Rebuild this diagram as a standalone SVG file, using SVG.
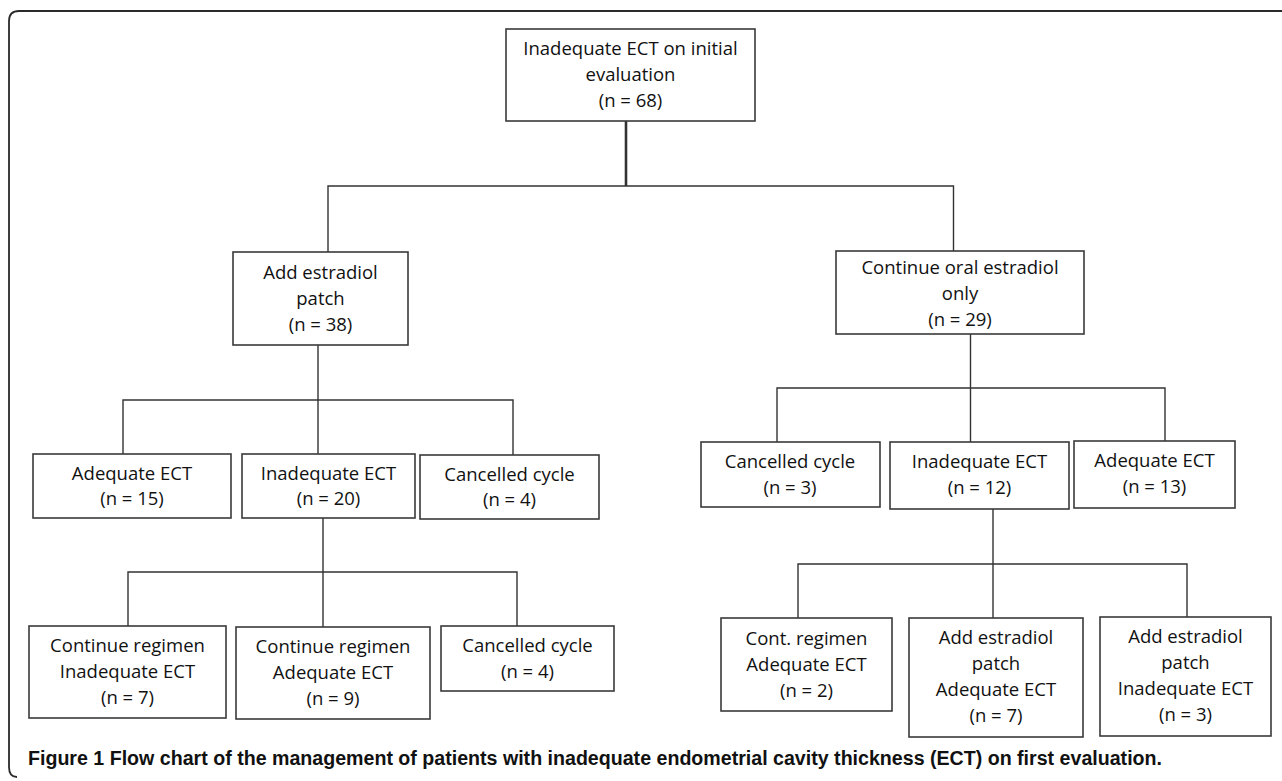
<svg xmlns="http://www.w3.org/2000/svg" width="1282" height="781" viewBox="0 0 1282 781">
<style>
  .box { fill: #ffffff; stroke: #3a3a3a; stroke-width: 1.6; }
  .t { font-family: "Open Sans", "Liberation Sans", sans-serif; font-size: 18.5px; font-weight: 500; fill: #111111; text-anchor: middle; }
  .c { fill: none; stroke: #333333; stroke-width: 1.4; }
  .thick { stroke-width: 2.6; }
  .frame { fill: none; stroke: #2a2a2a; stroke-width: 1.8; }
  .cap { font-family: "Liberation Sans", "Open Sans", sans-serif; font-size: 20px; fill: #111111; }
</style>
<rect width="1282" height="781" fill="#ffffff"/>
<path class="frame" d="M1282 11 H19 Q9 11 9 21 V767 Q9 777 17 777"/>
<g id="connectors">
  <path class="c thick" d="M626 121 V186"/>
  <path class="c" d="M328 252 V186 H953.5 V251"/>
  <path class="c" d="M318 345 V400 M123 454 V400 H513 V455 M318 400 V454"/>
  <path class="c" d="M970.5 334 V388 M777 442 V388 H1165 V441 M970.5 388 V442"/>
  <path class="c" d="M323 518 V572 M128 626 V572 H517 V626 M323 572 V627"/>
  <path class="c" d="M993 509 V564 M798 618 V564 H1187 V617 M993 564 V618"/>
</g>
<g id="n_top">
  <rect class="box" x="506" y="29" width="249" height="92"/>
  <text class="t" x="630.5" y="55">Inadequate ECT on initial</text>
  <text class="t" x="630.5" y="81">evaluation</text>
  <text class="t" x="630.5" y="107">(n = 68)</text>
</g>
<g id="n_patch">
  <rect class="box" x="233" y="252" width="175" height="93"/>
  <text class="t" x="320.5" y="279">Add estradiol</text>
  <text class="t" x="320.5" y="305">patch</text>
  <text class="t" x="320.5" y="331">(n = 38)</text>
</g>
<g id="n_oral">
  <rect class="box" x="836" y="251" width="248" height="83"/>
  <text class="t" x="960" y="274">Continue oral estradiol</text>
  <text class="t" x="960" y="300">only</text>
  <text class="t" x="960" y="326">(n = 29)</text>
</g>
<g id="n_a15">
  <rect class="box" x="33" y="454" width="198" height="64"/>
  <text class="t" x="132" y="480">Adequate ECT</text>
  <text class="t" x="132" y="505">(n = 15)</text>
</g>
<g id="n_i20">
  <rect class="box" x="242" y="454" width="173" height="64"/>
  <text class="t" x="328.5" y="480">Inadequate ECT</text>
  <text class="t" x="328.5" y="505">(n = 20)</text>
</g>
<g id="n_c4a">
  <rect class="box" x="420" y="455" width="179" height="64"/>
  <text class="t" x="509.5" y="481">Cancelled cycle</text>
  <text class="t" x="509.5" y="506">(n = 4)</text>
</g>
<g id="n_c3">
  <rect class="box" x="701" y="442" width="179" height="65"/>
  <text class="t" x="790" y="468">Cancelled cycle</text>
  <text class="t" x="790" y="494">(n = 3)</text>
</g>
<g id="n_i12">
  <rect class="box" x="890" y="442" width="179" height="67"/>
  <text class="t" x="979.5" y="468">Inadequate ECT</text>
  <text class="t" x="979.5" y="494">(n = 12)</text>
</g>
<g id="n_a13">
  <rect class="box" x="1074" y="441" width="161" height="67"/>
  <text class="t" x="1154.5" y="467">Adequate ECT</text>
  <text class="t" x="1154.5" y="493">(n = 13)</text>
</g>
<g id="n_cri7">
  <rect class="box" x="29" y="626" width="197" height="92"/>
  <text class="t" x="127.5" y="652">Continue regimen</text>
  <text class="t" x="127.5" y="678">Inadequate ECT</text>
  <text class="t" x="127.5" y="704">(n = 7)</text>
</g>
<g id="n_cra9">
  <rect class="box" x="236" y="627" width="194" height="92"/>
  <text class="t" x="333" y="653">Continue regimen</text>
  <text class="t" x="333" y="679">Adequate ECT</text>
  <text class="t" x="333" y="705">(n = 9)</text>
</g>
<g id="n_c4b">
  <rect class="box" x="441" y="626" width="173" height="65"/>
  <text class="t" x="527.5" y="652">Cancelled cycle</text>
  <text class="t" x="527.5" y="678">(n = 4)</text>
</g>
<g id="n_cra2">
  <rect class="box" x="721" y="618" width="171" height="93"/>
  <text class="t" x="806.5" y="645">Cont. regimen</text>
  <text class="t" x="806.5" y="671">Adequate ECT</text>
  <text class="t" x="806.5" y="697">(n = 2)</text>
</g>
<g id="n_apa7">
  <rect class="box" x="909" y="618" width="174" height="119"/>
  <text class="t" x="996" y="644">Add estradiol</text>
  <text class="t" x="996" y="670">patch</text>
  <text class="t" x="996" y="696">Adequate ECT</text>
  <text class="t" x="996" y="722">(n = 7)</text>
</g>
<g id="n_api3">
  <rect class="box" x="1100" y="617" width="171" height="119"/>
  <text class="t" x="1185.5" y="643">Add estradiol</text>
  <text class="t" x="1185.5" y="669">patch</text>
  <text class="t" x="1185.5" y="695">Inadequate ECT</text>
  <text class="t" x="1185.5" y="721">(n = 3)</text>
</g>
<text class="cap" x="28" y="765" textLength="1134" lengthAdjust="spacingAndGlyphs"><tspan font-weight="700">Figure 1</tspan><tspan font-weight="600"> Flow chart of the management of patients with inadequate endometrial cavity thickness (ECT) on first evaluation.</tspan></text>
</svg>
